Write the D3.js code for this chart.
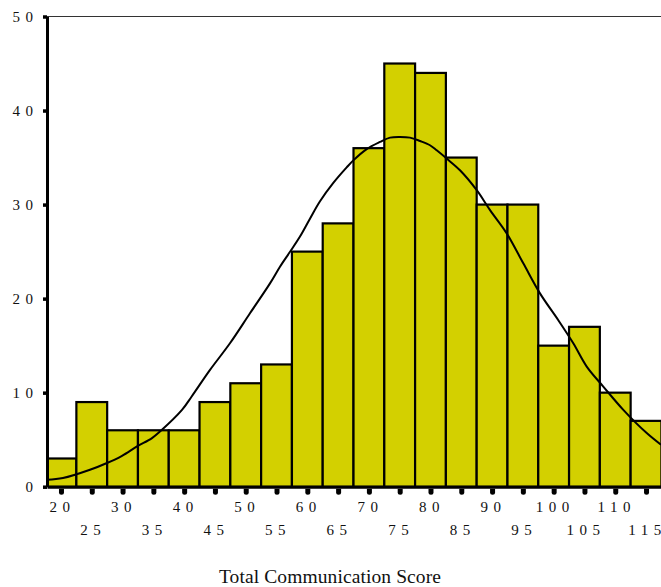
<!DOCTYPE html>
<html>
<head>
<meta charset="utf-8">
<script src="https://cdn.jsdelivr.net/npm/d3@7"></script>
<style>
  html, body { margin: 0; padding: 0; background: #fff; }
  svg { display: block; }
  .lbl { font-family: "Liberation Serif", "Times New Roman", serif; fill: #111; }
</style>
</head>
<body>
<svg id="chart" width="661" height="587"></svg>
<script>
// Histogram bins (centre of each 5-point bin) and their frequencies
const binCenters = [20, 25, 30, 35, 40, 45, 50, 55, 60, 65, 70, 75, 80, 85, 90, 95, 100, 105, 110, 115];
const counts     = [3, 9, 6, 6, 6, 9, 11, 13, 25, 28, 36, 45, 44, 35, 30, 30, 15, 17, 10, 7];

// Fitted normal curve, sampled along the score axis
const curveScore = [17.73, 20.32, 24.71, 27.47, 29.91, 32.34, 34.78, 36.08, 39.65, 41.22, 44.20, 47.44,
                    50.69, 53.94, 55.56, 57.19, 58.81, 60.43, 62.06, 64.22, 66.39, 67.47, 69.64, 71.80,
                    73.43, 75.05, 76.67, 78.30, 79.92, 81.01, 82.63, 84.79, 87.51, 89.67, 92.38, 95.07,
                    97.78, 100.76, 103.19, 105.37, 108.06, 111.31, 115.11, 117.43];
const curveFreq  = [0.74, 0.92, 1.80, 2.52, 3.29, 4.28, 5.17, 5.87, 8.17, 9.59, 12.42, 15.25,
                    18.44, 21.62, 23.39, 24.98, 26.60, 28.50, 30.35, 32.30, 33.95, 34.70, 35.90, 36.66,
                    37.12, 37.19, 37.12, 36.76, 36.31, 35.77, 34.89, 33.65, 31.53, 29.41, 26.93, 23.75,
                    20.56, 17.70, 15.25, 12.77, 10.65, 8.17, 5.70, 4.46];

const yTicks = [0, 10, 20, 30, 40, 50];
const xTicks = [20, 25, 30, 35, 40, 45, 50, 55, 60, 65, 70, 75, 80, 85, 90, 95, 100, 105, 110, 115];
const xTitle = "Total Communication Score";

const svg = d3.select("#chart");
const plotLeft = 47, plotRight = 661, plotTop = 16.5, plotBottom = 486.7;

const x = d3.scaleLinear().domain([17.73, 117.43]).range([plotLeft, plotRight]);
const y = d3.scaleLinear().domain([0, 50]).range([plotBottom, plotTop]);

svg.append("defs").append("clipPath").attr("id", "plot")
  .append("rect").attr("x", plotLeft).attr("y", 0)
  .attr("width", plotRight - plotLeft + 10).attr("height", plotBottom);

// top frame line
svg.append("line")
  .attr("x1", plotLeft).attr("x2", plotRight).attr("y1", y(50)).attr("y2", y(50))
  .attr("stroke", "#333").attr("stroke-width", 1);

// bars
svg.append("g").attr("clip-path", "url(#plot)")
  .selectAll("rect").data(binCenters).join("rect")
  .attr("x", d => x(d - 2.5))
  .attr("width", d => x(d + 2.5) - x(d - 2.5))
  .attr("y", (d, i) => y(counts[i]))
  .attr("height", (d, i) => y(0) - y(counts[i]))
  .attr("fill", "#d3d000")
  .attr("stroke", "#000")
  .attr("stroke-width", 2.2);

// normal curve
const line = d3.line().x(d => x(d[0])).y(d => y(d[1])).curve(d3.curveCatmullRom.alpha(0.5));
svg.append("path")
  .datum(curveScore.map((s, i) => [s, curveFreq[i]]))
  .attr("d", line)
  .attr("fill", "none")
  .attr("stroke", "#000")
  .attr("stroke-width", 2)
  .attr("stroke-linejoin", "round");

// y axis
const yAxis = svg.append("g")
  .attr("transform", `translate(${plotLeft},0)`)
  .call(d3.axisLeft(y).tickValues(yTicks).tickSizeInner(4).tickSizeOuter(0).tickPadding(4));
yAxis.select(".domain").attr("stroke", "#000").attr("stroke-width", 3);
yAxis.selectAll(".tick line").attr("stroke", "#000").attr("stroke-width", 3.5);
yAxis.selectAll(".tick text")
  .attr("class", "lbl")
  .attr("x", -8.5)
  .attr("dy", "0.34em")
  .style("font-size", "15px")
  .style("letter-spacing", "5.5px");

// x axis
const xAxis = svg.append("g")
  .attr("transform", `translate(0,${plotBottom})`)
  .call(d3.axisBottom(x).tickValues(xTicks).tickSize(0).tickPadding(0));
xAxis.select(".domain").attr("stroke", "#000").attr("stroke-width", 3);
xAxis.selectAll(".tick line").remove();
xAxis.selectAll(".tick").append("path")
  .attr("d", "M-2.5,2h5v3.5a2.5,2.5 0 0 1 -5,0z")
  .attr("fill", "#000");
xAxis.selectAll(".tick text")
  .attr("class", "lbl")
  .attr("y", (d, i) => i % 2 === 0 ? 25 : 48)
  .attr("dy", 0)
  .attr("dx", 1)
  .style("font-size", "15px")
  .style("letter-spacing", "5.5px");

// axis title
svg.append("text")
  .attr("class", "lbl")
  .attr("x", 330).attr("y", 583)
  .attr("text-anchor", "middle")
  .style("font-size", "19.5px")
  .style("letter-spacing", "0.1px")
  .text(xTitle);
</script>
</body>
</html>
